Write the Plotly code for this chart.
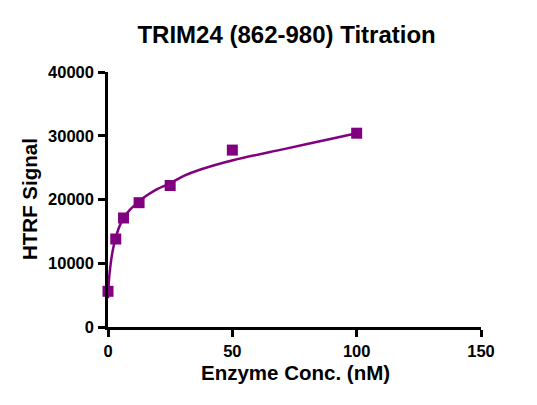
import plotly.graph_objects as go

# Measured data points
conc_nM = [0, 3.125, 6.25, 12.5, 25, 50, 100]
htrf_signal = [5600, 13800, 17100, 19500, 22200, 27750, 30400]

# Fitted curve
fit_x = [0, 0.4, 1.0, 2.0, 3.1, 4.5, 6.3, 8.6, 12.5, 14.7, 18.7, 24.7, 30.5, 37.2, 50.6, 70.7, 90.8, 100]
fit_y = [4500, 7400, 9700, 12200, 14000, 15700, 17100, 18300, 19700, 20400, 21400, 22500, 23700, 24700, 26200, 27900, 29600, 30400]

x_ticks = [0, 50, 100, 150]
y_ticks = [0, 10000, 20000, 30000, 40000]

purple = "#800080"
font_family = "Liberation Sans, Arial, sans-serif"

fig = go.Figure()
fig.add_trace(go.Scatter(
    x=fit_x, y=fit_y, mode="lines",
    line=dict(color=purple, width=2.5, shape="spline", smoothing=0.8),
    cliponaxis=False, showlegend=False, hoverinfo="skip"))
fig.add_trace(go.Scatter(
    x=conc_nM, y=htrf_signal, mode="markers",
    marker=dict(symbol="square", size=11, color=purple),
    cliponaxis=False, showlegend=False))

axis_common = dict(
    showline=True, linecolor="black", linewidth=2.5,
    ticks="outside", ticklen=7, tickwidth=2.5, tickcolor="black",
    showgrid=False, zeroline=False, mirror=False,
    tickfont=dict(family=font_family, size=16.5, color="black", weight="bold"),
)

fig.update_layout(
    width=537, height=405,
    margin=dict(l=99.5, r=64, t=64.3, b=86.3),
    paper_bgcolor="white", plot_bgcolor="white",
    title=dict(text="TRIM24 (862-980) Titration", x=278.6 / 537, xanchor="center",
               y=1 - 27 / 405, yanchor="middle",
               font=dict(family=font_family, size=24, color="black", weight="bold")),
    xaxis=dict(range=[0, 150], tickvals=x_ticks, ticktext=[str(v) for v in x_ticks],
               ticklabelstandoff=0, **axis_common),
    yaxis=dict(range=[0, 40000], tickvals=y_ticks, ticktext=[str(v) for v in y_ticks],
               ticklabelstandoff=1, **axis_common),
    annotations=[
        dict(text="Enzyme Conc. (nM)", x=0.502, y=0, xref="paper", yref="paper",
             xanchor="center", yanchor="middle", yshift=-45, showarrow=False,
             font=dict(family=font_family, size=20.5, color="black", weight="bold")),
        dict(text="HTRF Signal", x=0, y=0.5, xref="paper", yref="paper",
             xanchor="center", yanchor="middle", xshift=-78.5, textangle=-90, showarrow=False,
             font=dict(family=font_family, size=20.5, color="black", weight="bold")),
    ],
)

fig.write_html("out.html")
